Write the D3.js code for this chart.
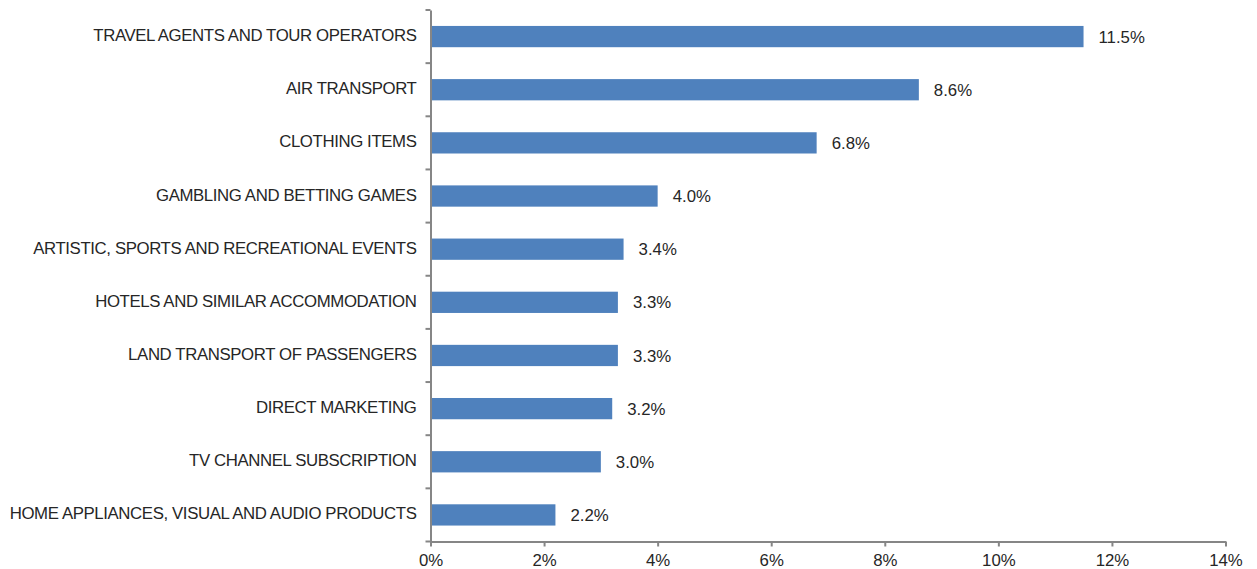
<!DOCTYPE html>
<html>
<head>
<meta charset="utf-8">
<script src="https://cdn.jsdelivr.net/npm/d3@7/dist/d3.min.js"></script>
<style>
  html, body { margin: 0; padding: 0; background: #fff; }
  svg { display: block; }
  text { font-family: "Liberation Sans", Arial, sans-serif; }
</style>
</head>
<body>
<svg id="chart" width="1257" height="569"></svg>
<script>
// Share of spending by category (percent)
const categories = [
  "TRAVEL AGENTS AND TOUR OPERATORS",
  "AIR TRANSPORT",
  "CLOTHING ITEMS",
  "GAMBLING AND BETTING GAMES",
  "ARTISTIC, SPORTS AND RECREATIONAL EVENTS",
  "HOTELS AND SIMILAR ACCOMMODATION",
  "LAND TRANSPORT OF PASSENGERS",
  "DIRECT MARKETING",
  "TV CHANNEL SUBSCRIPTION",
  "HOME APPLIANCES, VISUAL AND AUDIO PRODUCTS"
];
const shares = [11.5, 8.6, 6.8, 4.0, 3.4, 3.3, 3.3, 3.2, 3.0, 2.2];
const xTicks = [0, 2, 4, 6, 8, 10, 12, 14];

const svg = d3.select("#chart");
const margin = { top: 10, left: 430.5, right: 31.5, bottom: 27.5 };
const W = 1257, H = 569;
const fontSize = 16.8;

const x = d3.scaleLinear()
  .domain([0, 14])
  .range([margin.left, W - margin.right]);

const y = d3.scaleBand()
  .domain(categories)
  .range([margin.top, H - margin.bottom])
  .paddingInner(0.6)
  .paddingOuter(0.3);

const axisColor = "#868686";
const textColor = "#262626";

// Bars
svg.append("g")
  .selectAll("rect")
  .data(shares)
  .join("rect")
  .attr("x", x(0))
  .attr("y", (d, i) => y(categories[i]))
  .attr("width", d => x(d) - x(0))
  .attr("height", y.bandwidth())
  .attr("fill", "#4f81bd");

// Value labels
svg.append("g")
  .selectAll("text")
  .data(shares)
  .join("text")
  .attr("x", d => x(d) + 15)
  .attr("y", (d, i) => y(categories[i]) + y.bandwidth() / 2)
  .attr("dy", "0.36em")
  .attr("font-size", fontSize)
  .attr("fill", textColor)
  .text(d => d.toFixed(1) + "%");

// X axis
const xAxis = svg.append("g")
  .attr("transform", `translate(0,${H - margin.bottom})`)
  .call(d3.axisBottom(x)
    .tickValues(xTicks)
    .tickSize(5)
    .tickSizeOuter(0)
    .tickFormat(d => d + "%"));
xAxis.select(".domain").attr("stroke", axisColor).attr("stroke-width", 2);
xAxis.selectAll(".tick line").attr("stroke", axisColor).attr("stroke-width", 2);
xAxis.selectAll(".tick text")
  .attr("font-size", fontSize)
  .attr("fill", textColor)
  .attr("font-family", "Liberation Sans, Arial, sans-serif")
  .attr("dy", "0.98em");

// Y axis: category labels, with ticks at band boundaries
const yAxis = svg.append("g")
  .attr("transform", `translate(${margin.left},0)`)
  .call(d3.axisLeft(y).tickSize(0).tickPadding(14));
yAxis.select(".domain").attr("stroke", axisColor).attr("stroke-width", 2);
yAxis.selectAll(".tick text")
  .attr("font-size", fontSize)
  .attr("fill", textColor)
  .attr("font-family", "Liberation Sans, Arial, sans-serif")
  .attr("dy", "0.27em")
  .attr("letter-spacing", "-0.38px");

const boundaries = d3.range(categories.length + 1)
  .map(i => margin.top + i * (H - margin.bottom - margin.top) / categories.length);
yAxis.append("g")
  .selectAll("line")
  .data(boundaries)
  .join("line")
  .attr("x1", -5)
  .attr("x2", 0)
  .attr("y1", d => d)
  .attr("y2", d => d)
  .attr("stroke", axisColor)
  .attr("stroke-width", 2);
</script>
</body>
</html>
